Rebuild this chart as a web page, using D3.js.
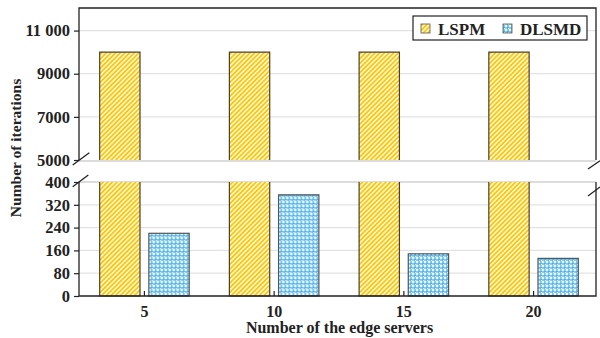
<!DOCTYPE html>
<html>
<head>
<meta charset="utf-8">
<script src="https://cdn.jsdelivr.net/npm/d3@7"></script>
<style>
  body { margin: 0; background: #fff; }
  text { font-family: "Liberation Serif", "Times New Roman", serif; font-weight: bold; fill: #222; }
</style>
</head>
<body>
<div id="chart"></div>
<script>
const width = 600, height = 338;

const servers = ["5", "10", "15", "20"];
const seriesNames = ["LSPM", "DLSMD"];
const lspm = [10000, 10000, 10000, 10000];
const dlsmd = [220, 355, 148, 132];
const topTicks = [5000, 7000, 9000, 11000];
const bottomTicks = [0, 80, 160, 240, 320, 400];

const left = 79, right = 596;
const panelT = { y0: 160, y1: 9 };   // upper panel range
const panelB = { y0: 296, y1: 182 }; // lower panel range

const svg = d3.select("#chart").append("svg")
    .attr("width", width).attr("height", height);

const defs = svg.append("defs");
const stripe = defs.append("pattern")
    .attr("id", "pat-lspm")
    .attr("patternUnits", "userSpaceOnUse")
    .attr("width", 3.3).attr("height", 3.3)
    .attr("patternTransform", "rotate(45)");
stripe.append("rect").attr("width", 3.3).attr("height", 3.3).attr("fill", "#ffc600");
stripe.append("line").attr("x1", 0.8).attr("x2", 0.8).attr("y1", 0).attr("y2", 3.3)
    .attr("stroke", "#fff").attr("stroke-width", 1.4);

const dots = defs.append("pattern")
    .attr("id", "pat-dlsmd")
    .attr("patternUnits", "userSpaceOnUse")
    .attr("width", 4).attr("height", 4);
dots.append("rect").attr("width", 4).attr("height", 4).attr("fill", "#4cb3ea");
dots.append("circle").attr("cx", 2).attr("cy", 2).attr("r", 1.4).attr("fill", "#fff");
dots.append("rect").attr("x", 0).attr("y", 0).attr("width", 1).attr("height", 1).attr("fill", "#e6f5fd");

const fills = { LSPM: "url(#pat-lspm)", DLSMD: "url(#pat-dlsmd)" };

const x0 = d3.scaleBand().domain(servers).range([left + 2, right + 1])
    .paddingInner(0.31).paddingOuter(0.144);
const x1 = d3.scaleBand().domain(seriesNames).range([0, x0.bandwidth()]).paddingInner(0.18);

const yTop = d3.scaleLinear().domain([5000, 12000]).range([panelT.y0, panelT.y1]);
const yBot = d3.scaleLinear().domain([0, 400]).range([panelB.y0, panelB.y1]);

// grid lines
svg.append("g").selectAll("line").data(topTicks.slice(1)).join("line")
    .attr("x1", left).attr("x2", right)
    .attr("y1", d => yTop(d)).attr("y2", d => yTop(d))
    .attr("stroke", "#e3e3e3").attr("stroke-width", 1.2);
svg.append("g").selectAll("line").data(bottomTicks.slice(1, -1)).join("line")
    .attr("x1", left).attr("x2", right)
    .attr("y1", d => yBot(d)).attr("y2", d => yBot(d))
    .attr("stroke", "#e3e3e3").attr("stroke-width", 1.2);
// break edges
[yTop(5000) + 1, yBot(400)].forEach(y => {
    svg.append("line").attr("x1", left).attr("x2", right).attr("y1", y).attr("y2", y)
        .attr("stroke", "#dcdcdc").attr("stroke-width", 2);
});

const rows = servers.map((s, i) => ({ server: s, LSPM: lspm[i], DLSMD: dlsmd[i] }));

// bars
const groups = svg.append("g").selectAll("g").data(rows).join("g")
    .attr("transform", d => `translate(${x0(d.server)},0)`);
groups.selectAll("g").data(d => seriesNames.map(k => ({ key: k, value: d[k] }))).join("g")
    .each(function (d) {
        const g = d3.select(this);
        const bx = x1(d.key), bw = x1.bandwidth();
        if (d.value > 400) {
            // upper part: open at the bottom, lower part: open at the top
            const yt = yTop(d.value), yb = yTop(5000);
            g.append("rect").attr("x", bx).attr("width", bw).attr("y", yt).attr("height", yb - yt)
                .attr("fill", fills[d.key]);
            g.append("path").attr("d", `M${bx},${yb}V${yt}H${bx + bw}V${yb}`)
                .attr("fill", "none").attr("stroke", "#4a4030").attr("stroke-width", 1.2);
            const y2 = yBot(400), y3 = yBot(0);
            g.append("rect").attr("x", bx).attr("width", bw).attr("y", y2).attr("height", y3 - y2)
                .attr("fill", fills[d.key]);
            g.append("path").attr("d", `M${bx},${y2}V${y3}H${bx + bw}V${y2}`)
                .attr("fill", "none").attr("stroke", "#4a4030").attr("stroke-width", 1.2);
        } else {
            g.append("rect").attr("x", bx).attr("width", bw)
                .attr("y", yBot(d.value)).attr("height", yBot(0) - yBot(d.value))
                .attr("fill", fills[d.key]).attr("stroke", "#555").attr("stroke-width", 1.2);
        }
    });

// frame
const frame = svg.append("g").attr("stroke", "#222").attr("stroke-width", 1.3).attr("fill", "none");
frame.append("path").attr("d", `M${left},${panelT.y0}V${panelT.y1 - 1}H${right}V${panelT.y0}`);
frame.append("path").attr("d", `M${left},${panelB.y1}V${panelB.y0}H${right}V${panelB.y1}`);

// y axes
const fmt = d => d >= 10000 ? d3.format(",")(d).replace(",", " ") : String(d);
const axT = svg.append("g").attr("transform", `translate(${left},0)`)
    .call(d3.axisLeft(yTop).tickValues(topTicks).tickFormat(fmt).tickSize(5).tickPadding(4));
const axB = svg.append("g").attr("transform", `translate(${left},0)`)
    .call(d3.axisLeft(yBot).tickValues(bottomTicks).tickSize(5).tickPadding(4));
[axT, axB].forEach(a => {
    a.select(".domain").remove();
    a.selectAll(".tick line").attr("stroke", "#222").attr("stroke-width", 1.2);
    a.selectAll(".tick text").attr("font-size", 16.5).attr("font-family", null).attr("fill", "#222");
});

// x axis
const axX = svg.append("g").attr("transform", `translate(0,${panelB.y0})`)
    .call(d3.axisBottom(x0).tickSize(-5).tickPadding(0));
axX.select(".domain").remove();
axX.selectAll(".tick line").attr("stroke", "#222").attr("stroke-width", 1.2);
axX.selectAll(".tick text").attr("font-size", 16).attr("font-family", null)
    .attr("y", 21).attr("dy", 0).attr("fill", "#222");

// break marks
const brk = svg.append("g").attr("stroke", "#222").attr("stroke-width", 1.3);
[[72.7, 165, 89.3, 152.7], [72.7, 186.7, 88.3, 175], [588, 169, 600, 160.7], [588, 196, 600, 187]]
    .forEach(c => brk.append("line").attr("x1", c[0]).attr("y1", c[1]).attr("x2", c[2]).attr("y2", c[3]));

// titles
svg.append("text").attr("x", (left + right) / 2 + 2).attr("y", 333)
    .attr("text-anchor", "middle").attr("font-size", 16).text("Number of the edge servers");
svg.append("text").attr("transform", "translate(21,148) rotate(-90)")
    .attr("text-anchor", "middle").attr("font-size", 15.5).text("Number of iterations");

// legend
const lg = svg.append("g");
lg.append("rect").attr("x", 413).attr("y", 16).attr("width", 174).attr("height", 24)
    .attr("fill", "#fff").attr("stroke", "#222").attr("stroke-width", 1.2);
const legendX = [421, 503];
seriesNames.forEach((k, i) => {
    lg.append("rect").attr("x", legendX[i]).attr("y", 24).attr("width", 9).attr("height", 9)
        .attr("fill", fills[k]).attr("stroke", "#555").attr("stroke-width", 0.8);
    lg.append("text").attr("x", legendX[i] + 17).attr("y", 35).attr("font-size", 17).text(k);
});
</script>
</body>
</html>
